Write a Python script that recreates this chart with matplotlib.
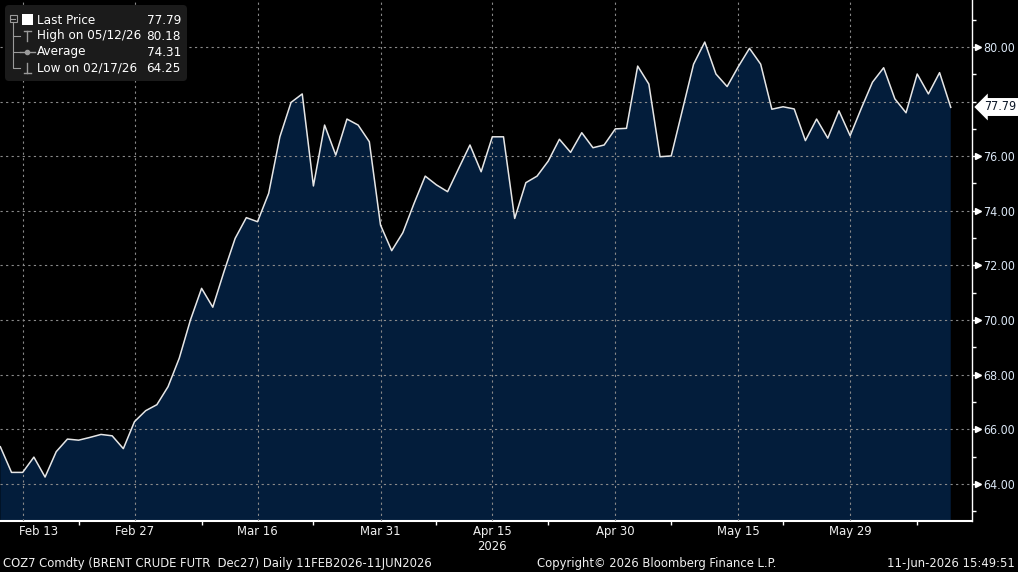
import numpy as np
import pandas as pd
import matplotlib
matplotlib.use('Agg')
import matplotlib.pyplot as plt
from matplotlib import font_manager as fm
from matplotlib.patches import Rectangle, FancyBboxPatch
from matplotlib.lines import Line2D
from matplotlib.transforms import Affine2D, ScaledTranslation, blended_transform_factory

plt.rcParams['font.family'] = ['DejaVu Sans']
# Bloomberg text is narrow: use DejaVu Sans Condensed when the system has it
cond = 'Condensed' in fm.findfont(fm.FontProperties(family='DejaVu Sans', stretch='condensed'))
if cond:
    plt.rcParams['font.stretch'] = 'condensed'
k = 1.0 if cond else 0.9

# trading days 11 Feb - 11 Jun 2026 (Good Friday closed)
dates = pd.bdate_range('2026-02-11', '2026-06-11')
dates = dates[dates != pd.Timestamp('2026-04-03')]

prices = [65.36, 64.42, 64.42, 64.98, 64.25, 65.18, 65.64, 65.60, 65.70, 65.81,
          65.76, 65.29, 66.28, 66.68, 66.90, 67.56, 68.60, 70.00, 71.16, 70.47,
          71.77, 72.99, 73.75, 73.60, 74.64, 76.71, 77.97, 78.28, 74.91, 77.14,
          76.04, 77.36, 77.14, 76.53, 73.48, 72.54, 73.20, 74.27, 75.27, 74.95,
          74.70, 75.56, 76.41, 75.43, 76.71, 76.71, 73.72, 75.03, 75.27, 75.82,
          76.62, 76.14, 76.86, 76.31, 76.41, 77.00, 77.02, 79.30, 78.64, 75.98,
          76.01, 77.69, 79.37, 80.18, 79.01, 78.55, 79.28, 79.95, 79.37, 77.72,
          77.81, 77.73, 76.57, 77.36, 76.66, 77.66, 76.75, 77.75, 78.71, 79.24,
          78.10, 77.59, 79.01, 78.28, 79.06, 77.79]

label_dates = ['2026-02-13', '2026-02-27', '2026-03-16', '2026-03-31',
               '2026-04-15', '2026-04-30', '2026-05-15', '2026-05-29']
label_text = ['Feb 13', 'Feb 27', 'Mar 16', 'Mar 31', 'Apr 15\n2026',
              'Apr 30', 'May 15', 'May 29']
minor_dates = ['2026-02-20', '2026-03-09', '2026-03-23', '2026-04-08',
               '2026-04-22', '2026-05-07', '2026-05-21', '2026-06-08']
y_major = [64, 66, 68, 70, 72, 74, 76, 78, 80]
y_minor = [63, 65, 67, 69, 71, 73, 75, 77, 79, 81]

legend_names = ['Last Price', 'High on 05/12/26', 'Average', 'Low on 02/17/26']
legend_values = ['77.79', '80.18', '74.31', '64.25']
last_price = 77.79

footer_left = 'COZ7 Comdty (BRENT CRUDE FUTR  Dec27) Daily 11FEB2026-11JUN2026'
footer_mid = 'Copyright\u00a9 2026 Bloomberg Finance L.P.'
footer_right = '11-Jun-2026 15:49:51'

W, H = 1018, 572
fig = plt.figure(figsize=(W / 100, H / 100), dpi=100, facecolor='black')
ax = fig.add_axes([0, 51 / H, 972 / W, 1 - 51 / H])
ax.set_facecolor('black')

x = np.arange(len(prices))
ax.fill_between(x, prices, 0, color='#031d3b', lw=0, zorder=1)
ax.plot(x, prices, color='#e6e6e6', lw=1.1, zorder=3)
ax.set_xlim(-0.03, 86.9)
ax.set_ylim(62.64, 81.72)

pos = lambda ds: [dates.get_loc(pd.Timestamp(d)) for d in ds]
ax.set_xticks(pos(label_dates))
ax.set_xticklabels(label_text)
ax.set_xticks(pos(minor_dates), minor=True)

ax.yaxis.tick_right()
ax.set_yticks(y_major)
ax.set_yticklabels(['' if v == 78 else '%.2f' % v for v in y_major])
ax.set_yticks(y_minor, minor=True)

ax.tick_params(axis='x', which='major', length=0, pad=3, labelcolor='#f0f0f0',
               labelsize=9.4 * k)
ax.tick_params(axis='x', which='minor', length=3, width=1, color='white', direction='out')
ax.tick_params(axis='y', which='major', length=3, width=1, color='white', pad=5,
               labelcolor='#dbe7f5', labelsize=8.9 * k)
ax.tick_params(axis='y', which='minor', length=3, width=1, color='white')
first = ax.get_xticklabels()[0]
first.set_ha('left')
first.set_transform(first.get_transform() + ScaledTranslation(-4 / 100, 0, fig.dpi_scale_trans))

ax.grid(True, which='major', color='#8a8a8a', ls=(0, (2, 3)), lw=0.8, zorder=2)
ax.set_axisbelow(False)
for s in ['left', 'top']:
    ax.spines[s].set_visible(False)
ax.spines['bottom'].set_color('white')
ax.spines['bottom'].set_linewidth(1.5)
ax.spines['right'].set_color('white')
ax.spines['right'].set_linewidth(1)

# triangle markers at labelled y ticks
bt = blended_transform_factory(ax.transAxes, ax.transData)
tri = [v for v in y_major if v != 78]
ax.plot([1.0057] * len(tri), tri, ls='none', marker='>', ms=5, color='white',
        transform=bt, clip_on=False)

# pixel coordinate transform (origin top-left)
px = Affine2D().scale(1 / W, -1 / H).translate(0, 1) + fig.transFigure

# last price tag
fig.text(984, 107, '%.2f' % last_price, transform=px, ha='left', va='center',
         fontsize=8.9 * k, color='#0b1626',
         bbox=dict(boxstyle='larrow,pad=0.2', fc='white', ec='none'))

# legend box
fig.add_artist(FancyBboxPatch((5, 5), 182, 76, boxstyle='round,pad=0,rounding_size=4',
                              transform=px, fc='#1b1b1b', ec='none'))
g = '#9a9a9a'
fig.add_artist(Rectangle((10, 15), 7, 7, transform=px, fill=False, ec=g, lw=0.8))
fig.add_artist(Line2D([11.5, 15.5], [18.5, 18.5], transform=px, color=g, lw=0.8))
fig.add_artist(Line2D([13.5, 13.5, 20], [22, 68, 68], transform=px, color=g, lw=0.8))
for yy in (36, 52):
    fig.add_artist(Line2D([13.5, 20], [yy, yy], transform=px, color=g, lw=0.8))
fig.add_artist(Rectangle((22, 14), 11, 11, transform=px, fc='white', ec='none'))
fig.add_artist(Line2D([24, 31], [31, 31], transform=px, color=g, lw=1))
fig.add_artist(Line2D([27.5, 27.5], [31, 41], transform=px, color=g, lw=1))
fig.add_artist(Line2D([20, 35], [52, 52], transform=px, color=g, lw=1))
fig.add_artist(Line2D([27.5], [52], transform=px, color=g, marker='o', ms=3, ls='none'))
fig.add_artist(Line2D([27.5, 27.5], [63, 73], transform=px, color=g, lw=1))
fig.add_artist(Line2D([24, 31], [73, 73], transform=px, color=g, lw=1))
for i, (n, v) in enumerate(zip(legend_names, legend_values)):
    yy = 20 + i * 16
    fig.text(37, yy, n, transform=px, ha='left', va='center', fontsize=9.6 * k, color='white')
    fig.text(181, yy, v, transform=px, ha='right', va='center', fontsize=9.6 * k, color='white')

# footer
fs = 9.3 * k
fig.text(3, 563, footer_left, transform=px, ha='left', va='center', fontsize=fs, color='#f0f0f0')
fig.text(657, 563, footer_mid, transform=px, ha='center', va='center', fontsize=fs, color='#f0f0f0')
fig.text(1015, 563, footer_right, transform=px, ha='right', va='center', fontsize=fs, color='#f0f0f0')

fig.savefig('out.png', dpi=100, facecolor='black')
